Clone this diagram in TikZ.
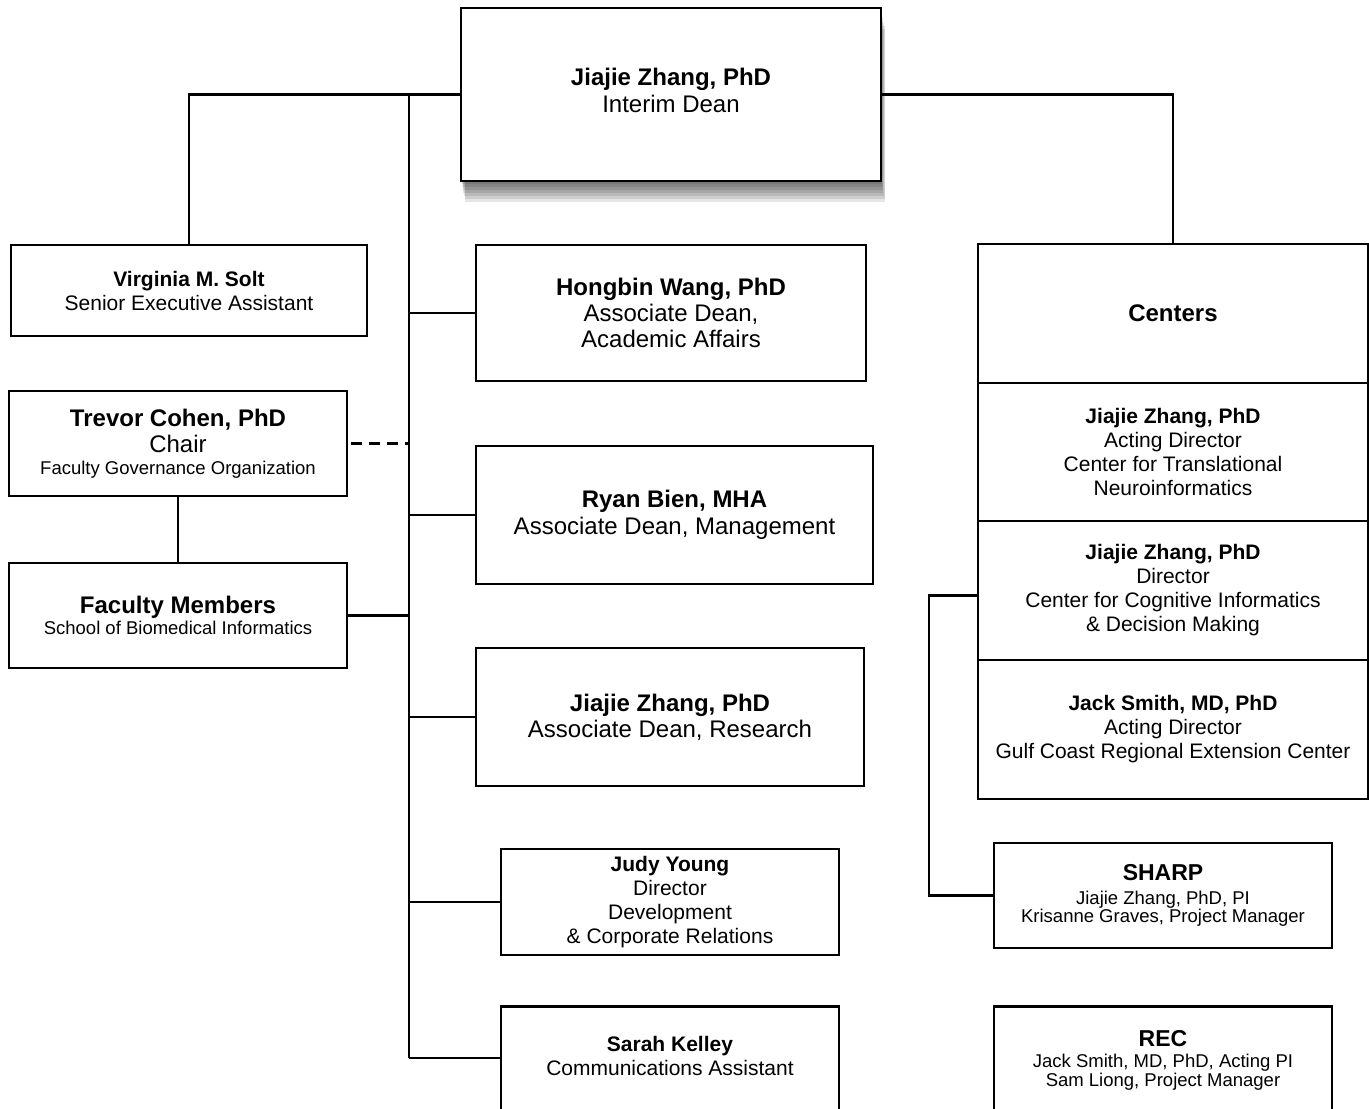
\documentclass[tikz,border=0pt]{standalone}
\usepackage{fontspec}
\setmainfont{Liberation Sans}
\usetikzlibrary{positioning,shadows}

\newcommand{\bigtxt}{\fontsize{24}{26}\selectfont}
\newcommand{\midtxt}{\fontsize{21}{24}\selectfont}
\newcommand{\smalltxt}{\fontsize{18.5}{19}\selectfont}

\tikzset{
  orgbox/.style={draw, fill=white, line width=2.5, align=center, inner sep=0pt},
  wire/.style={line width=2.2},
  deanshadow/.style={drop shadow={shadow xshift=#1*0.6pt, shadow yshift=-#1*3pt, opacity=.1, fill=black}},
}

\begin{document}
\begin{tikzpicture}[x=1pt,y=-1pt]
\useasboundingbox (0,0) rectangle (1369,1109);
\clip (0,0) rectangle (1369,1109);

% dean
\node[orgbox, font=\fontsize{24}{27}\selectfont, minimum width=420pt, minimum height=173pt,
  deanshadow=7, deanshadow=6, deanshadow=5, deanshadow=4, deanshadow=3, deanshadow=2, deanshadow=1]
  (dean) at (671,94.5) {\textbf{Jiajie Zhang, PhD}\\Interim Dean\\[-18pt]\mbox{}};

% left column
\node[orgbox, font=\midtxt, minimum width=356pt, minimum height=91pt] (solt) at (189,290.5)
  {\textbf{Virginia M. Solt}\\Senior Executive Assistant};
\node[orgbox, font=\bigtxt, minimum width=338pt, minimum height=105pt] (cohen) at (178,443.5)
  {\textbf{Trevor Cohen, PhD}\\Chair\\[-4pt]{\smalltxt Faculty Governance Organization}};
\node[orgbox, font=\fontsize{18.5}{21}\selectfont, minimum width=338pt, minimum height=105pt] (faculty) at (178,615.5)
  {{\bigtxt\textbf{Faculty Members}}\\School of Biomedical Informatics};

% middle column
\node[orgbox, font=\bigtxt, minimum width=390pt, minimum height=136pt] (wang) at (671,313)
  {\textbf{Hongbin Wang, PhD}\\Associate Dean,\\Academic Affairs};
\node[orgbox, font=\fontsize{24}{27}\selectfont, minimum width=397pt, minimum height=138pt] (bien) at (674.5,515)
  {\textbf{Ryan Bien, MHA}\\Associate Dean, Management};
\node[orgbox, font=\bigtxt, minimum width=388pt, minimum height=138pt] (zhangres) at (670,717)
  {\textbf{Jiajie Zhang, PhD}\\Associate Dean, Research};
\node[orgbox, font=\midtxt, minimum width=338pt, minimum height=106pt] (young) at (670,902)
  {\textbf{Judy Young}\\Director\\Development\\\& Corporate Relations};
\node[orgbox, font=\midtxt, minimum width=338pt, inner ysep=30pt, anchor=north] (kelley) at (670,1005)
  {\textbf{Sarah Kelley}\\Communications Assistant\\[40pt]\mbox{}};

% centers
\node[orgbox, font=\bigtxt, minimum width=390pt, minimum height=139pt] (centers) at (1173,313.5)
  {\textbf{Centers}};
\node[orgbox, font=\midtxt, minimum width=390pt, minimum height=138pt, below=-2.5pt of centers] (cnti)
  {\textbf{Jiajie Zhang, PhD}\\Acting Director\\Center for Translational\\Neuroinformatics};
\node[orgbox, font=\midtxt, minimum width=390pt, minimum height=139pt, below=-2.5pt of cnti] (cci)
  {\textbf{Jiajie Zhang, PhD}\\Director\\Center for Cognitive Informatics\\\& Decision Making};
\node[orgbox, font=\midtxt, minimum width=390pt, minimum height=139pt, below=-2.5pt of cci] (gcrec)
  {\textbf{Jack Smith, MD, PhD}\\Acting Director\\Gulf Coast Regional Extension Center};
\node[orgbox, font=\fontsize{18.5}{18}\selectfont, minimum width=338pt, minimum height=105pt] (sharp) at (1163,895.5)
  {{\fontsize{23}{26}\selectfont\textbf{SHARP}}\\[6.5pt]Jiajie Zhang, PhD, PI\\Krisanne Graves, Project Manager};
\node[orgbox, font=\fontsize{18.5}{19}\selectfont, minimum width=338pt, inner ysep=24pt, anchor=north] (rec) at (1163,1005)
  {{\fontsize{23}{26}\selectfont\textbf{REC}}\\[2pt]Jack Smith, MD, PhD, Acting PI\\Sam Liong, Project Manager\\[40pt]\mbox{}};

% connectors
\coordinate (spine) at (409,94.5);
\coordinate (spineend) at (409,1058);
\draw[wire] (dean.west) -| (solt.north);
\draw[wire] (dean.east) -| (centers.north);
\draw[wire] (spine) -- (spineend);
\draw[wire] (wang.west) -- (wang.west -| spine);
\draw[wire] (bien.west) -- (bien.west -| spine);
\draw[wire] (zhangres.west) -- (zhangres.west -| spine);
\draw[wire] (young.west) -- (young.west -| spine);
\draw[wire] (spineend) -- (spineend -| kelley.west);
\draw[wire, dash pattern=on 11pt off 7pt, dash phase=15pt] (cohen.east) -- (cohen.east -| spine);
\draw[wire] (cohen) -- (faculty);
\draw[wire] (faculty.east) -- (faculty.east -| spine);
\draw[wire] ([yshift=-5pt]cci.west) -- ++(-48,0) |- (sharp.west);
\end{tikzpicture}
\end{document}
